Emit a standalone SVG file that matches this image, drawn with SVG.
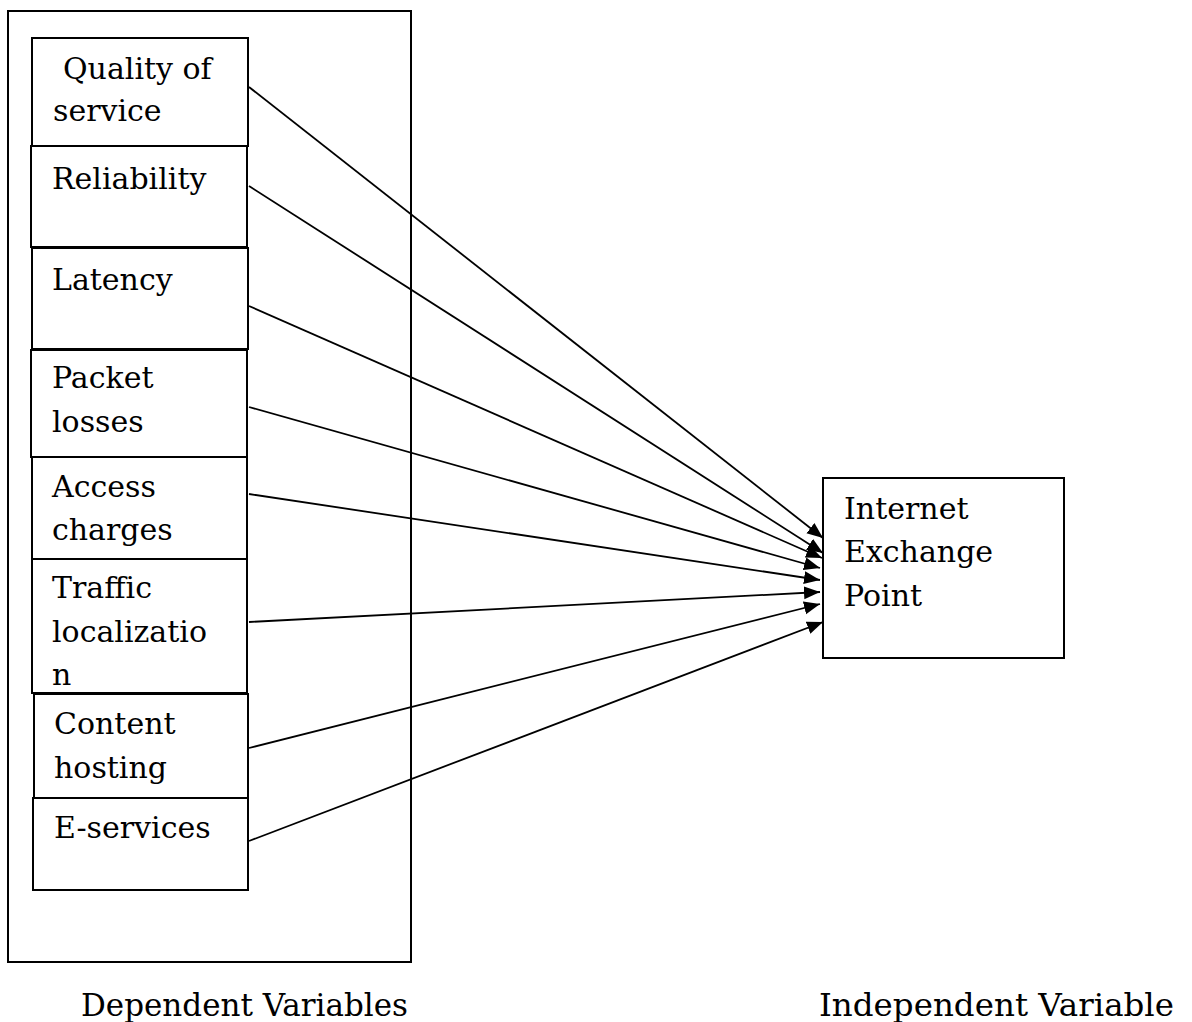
<svg xmlns="http://www.w3.org/2000/svg" width="1192" height="1022" viewBox="0 0 1192 1022">
<defs>
<style>
.box{fill:#fff;stroke:#000;stroke-width:2}
.frame{fill:none;stroke:#000;stroke-width:2}
.t{font-family:"DejaVu Serif","Liberation Serif",serif;font-size:30px;fill:#000}
.lab{font-family:"DejaVu Serif","Liberation Serif",serif;font-size:31px;fill:#000}
.c{stroke:#000;stroke-width:1.8;fill:none;marker-end:url(#ah)}
</style>
<marker id="ah" markerUnits="userSpaceOnUse" markerWidth="18" markerHeight="14" refX="16" refY="6.5" orient="auto">
<path d="M0,0 L16,6.5 L0,13 Z" fill="#000"/>
</marker>
</defs>
<rect width="1192" height="1022" fill="#fff"/>
<rect id="dependent-frame" class="frame" x="8" y="11" width="403" height="951"/>
<g id="quality">
<rect class="box" x="32" y="38" width="216" height="108"/>
<text class="t" x="63" y="79">Quality of</text>
<text class="t" x="53" y="121">service</text>
</g>
<g id="reliability">
<rect class="box" x="31" y="146" width="216" height="101"/>
<text class="t" x="52" y="189">Reliability</text>
</g>
<g id="latency">
<rect class="box" x="32" y="248" width="216" height="101"/>
<text class="t" x="52" y="290">Latency</text>
</g>
<g id="packet">
<rect class="box" x="31" y="350" width="216" height="107"/>
<text class="t" x="52" y="388">Packet</text>
<text class="t" x="52" y="432">losses</text>
</g>
<g id="access">
<rect class="box" x="32" y="457" width="215" height="102"/>
<text class="t" x="52" y="497">Access</text>
<text class="t" x="52" y="540">charges</text>
</g>
<g id="traffic">
<rect class="box" x="32" y="559" width="215" height="134"/>
<text class="t" x="52" y="598">Traffic</text>
<text class="t" x="52" y="642">localizatio</text>
<text class="t" x="52" y="685">n</text>
</g>
<g id="content">
<rect class="box" x="34" y="694" width="214" height="104"/>
<text class="t" x="54" y="734">Content</text>
<text class="t" x="54" y="778">hosting</text>
</g>
<g id="eservices">
<rect class="box" x="33" y="798" width="215" height="92"/>
<text class="t" x="54" y="838">E-services</text>
</g>
<g id="ixp">
<rect class="box" x="823" y="478" width="241" height="180"/>
<text class="t" x="844" y="519">Internet</text>
<text class="t" x="844" y="562">Exchange</text>
<text class="t" x="844" y="606">Point</text>
</g>
<g id="connectors">
<line class="c" x1="249" y1="87" x2="823" y2="538"/>
<line class="c" x1="249" y1="186" x2="823" y2="553"/>
<line class="c" x1="249" y1="306" x2="822" y2="558"/>
<line class="c" x1="249" y1="407" x2="820" y2="568"/>
<line class="c" x1="249" y1="494" x2="820" y2="580"/>
<line class="c" x1="249" y1="622" x2="820" y2="592"/>
<line class="c" x1="249" y1="748" x2="820" y2="604"/>
<line class="c" x1="249" y1="841" x2="823" y2="622"/>
</g>
<text class="lab" x="81" y="1016" textLength="327" lengthAdjust="spacingAndGlyphs">Dependent Variables</text>
<text class="lab" x="819" y="1016" textLength="355" lengthAdjust="spacingAndGlyphs">Independent Variable</text>
</svg>
